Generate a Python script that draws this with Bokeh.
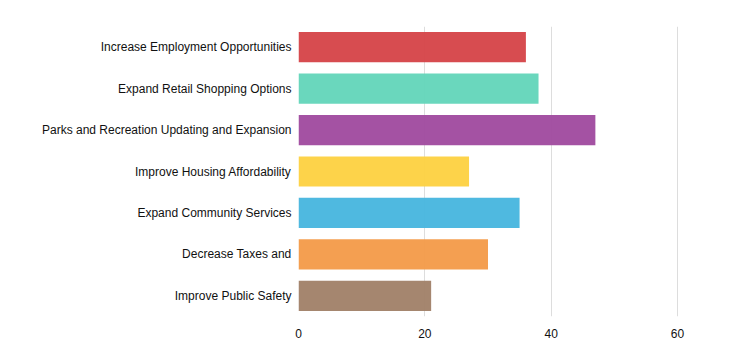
from bokeh.plotting import figure
from bokeh.models import ColumnDataSource, FactorRange, Range1d, FixedTicker
from bokeh.embed import file_html
from bokeh.resources import INLINE

categories = [
    "Increase Employment Opportunities",
    "Expand Retail Shopping Options",
    "Parks and Recreation Updating and Expansion",
    "Improve Housing Affordability",
    "Expand Community Services",
    "Decrease Taxes and",
    "Improve Public Safety",
]
values = [36, 38, 47, 27, 35, 30, 21]
colors = ["#d6464a", "#65d6bb", "#a14ca0", "#fdd244", "#49b7df", "#f49c4b", "#a2826a"]
x_ticks = [0, 20, 40, 60]

src = ColumnDataSource(dict(cat=categories, val=values, color=colors))

p = figure(
    width=734, height=354,
    y_range=FactorRange(*list(reversed(categories)), range_padding=0),
    x_range=Range1d(0, 68.55),
    output_backend="svg", toolbar_location=None,
    min_border_left=298, min_border_right=3, min_border_top=26, min_border_bottom=38,
)
p.hbar(y="cat", right="val", left=0, height=0.73, fill_color="color", line_color=None,
       fill_alpha=0.97, source=src)

p.outline_line_color = None
p.ygrid.grid_line_color = None
p.xgrid.grid_line_color = "#dddddd"
p.xgrid.grid_line_width = 1
p.xaxis.ticker = FixedTicker(ticks=x_ticks)

for ax in (p.xaxis[0], p.yaxis[0]):
    ax.axis_line_color = None
    ax.major_tick_line_color = None
    ax.minor_tick_line_color = None
    ax.major_label_text_font = "Liberation Sans"
    ax.major_label_text_font_size = "12px"
    ax.major_label_text_color = "#111111"

p.xaxis.major_label_standoff = 6
p.yaxis.major_label_standoff = 1

open("out.html", "w").write(file_html(p, INLINE))
